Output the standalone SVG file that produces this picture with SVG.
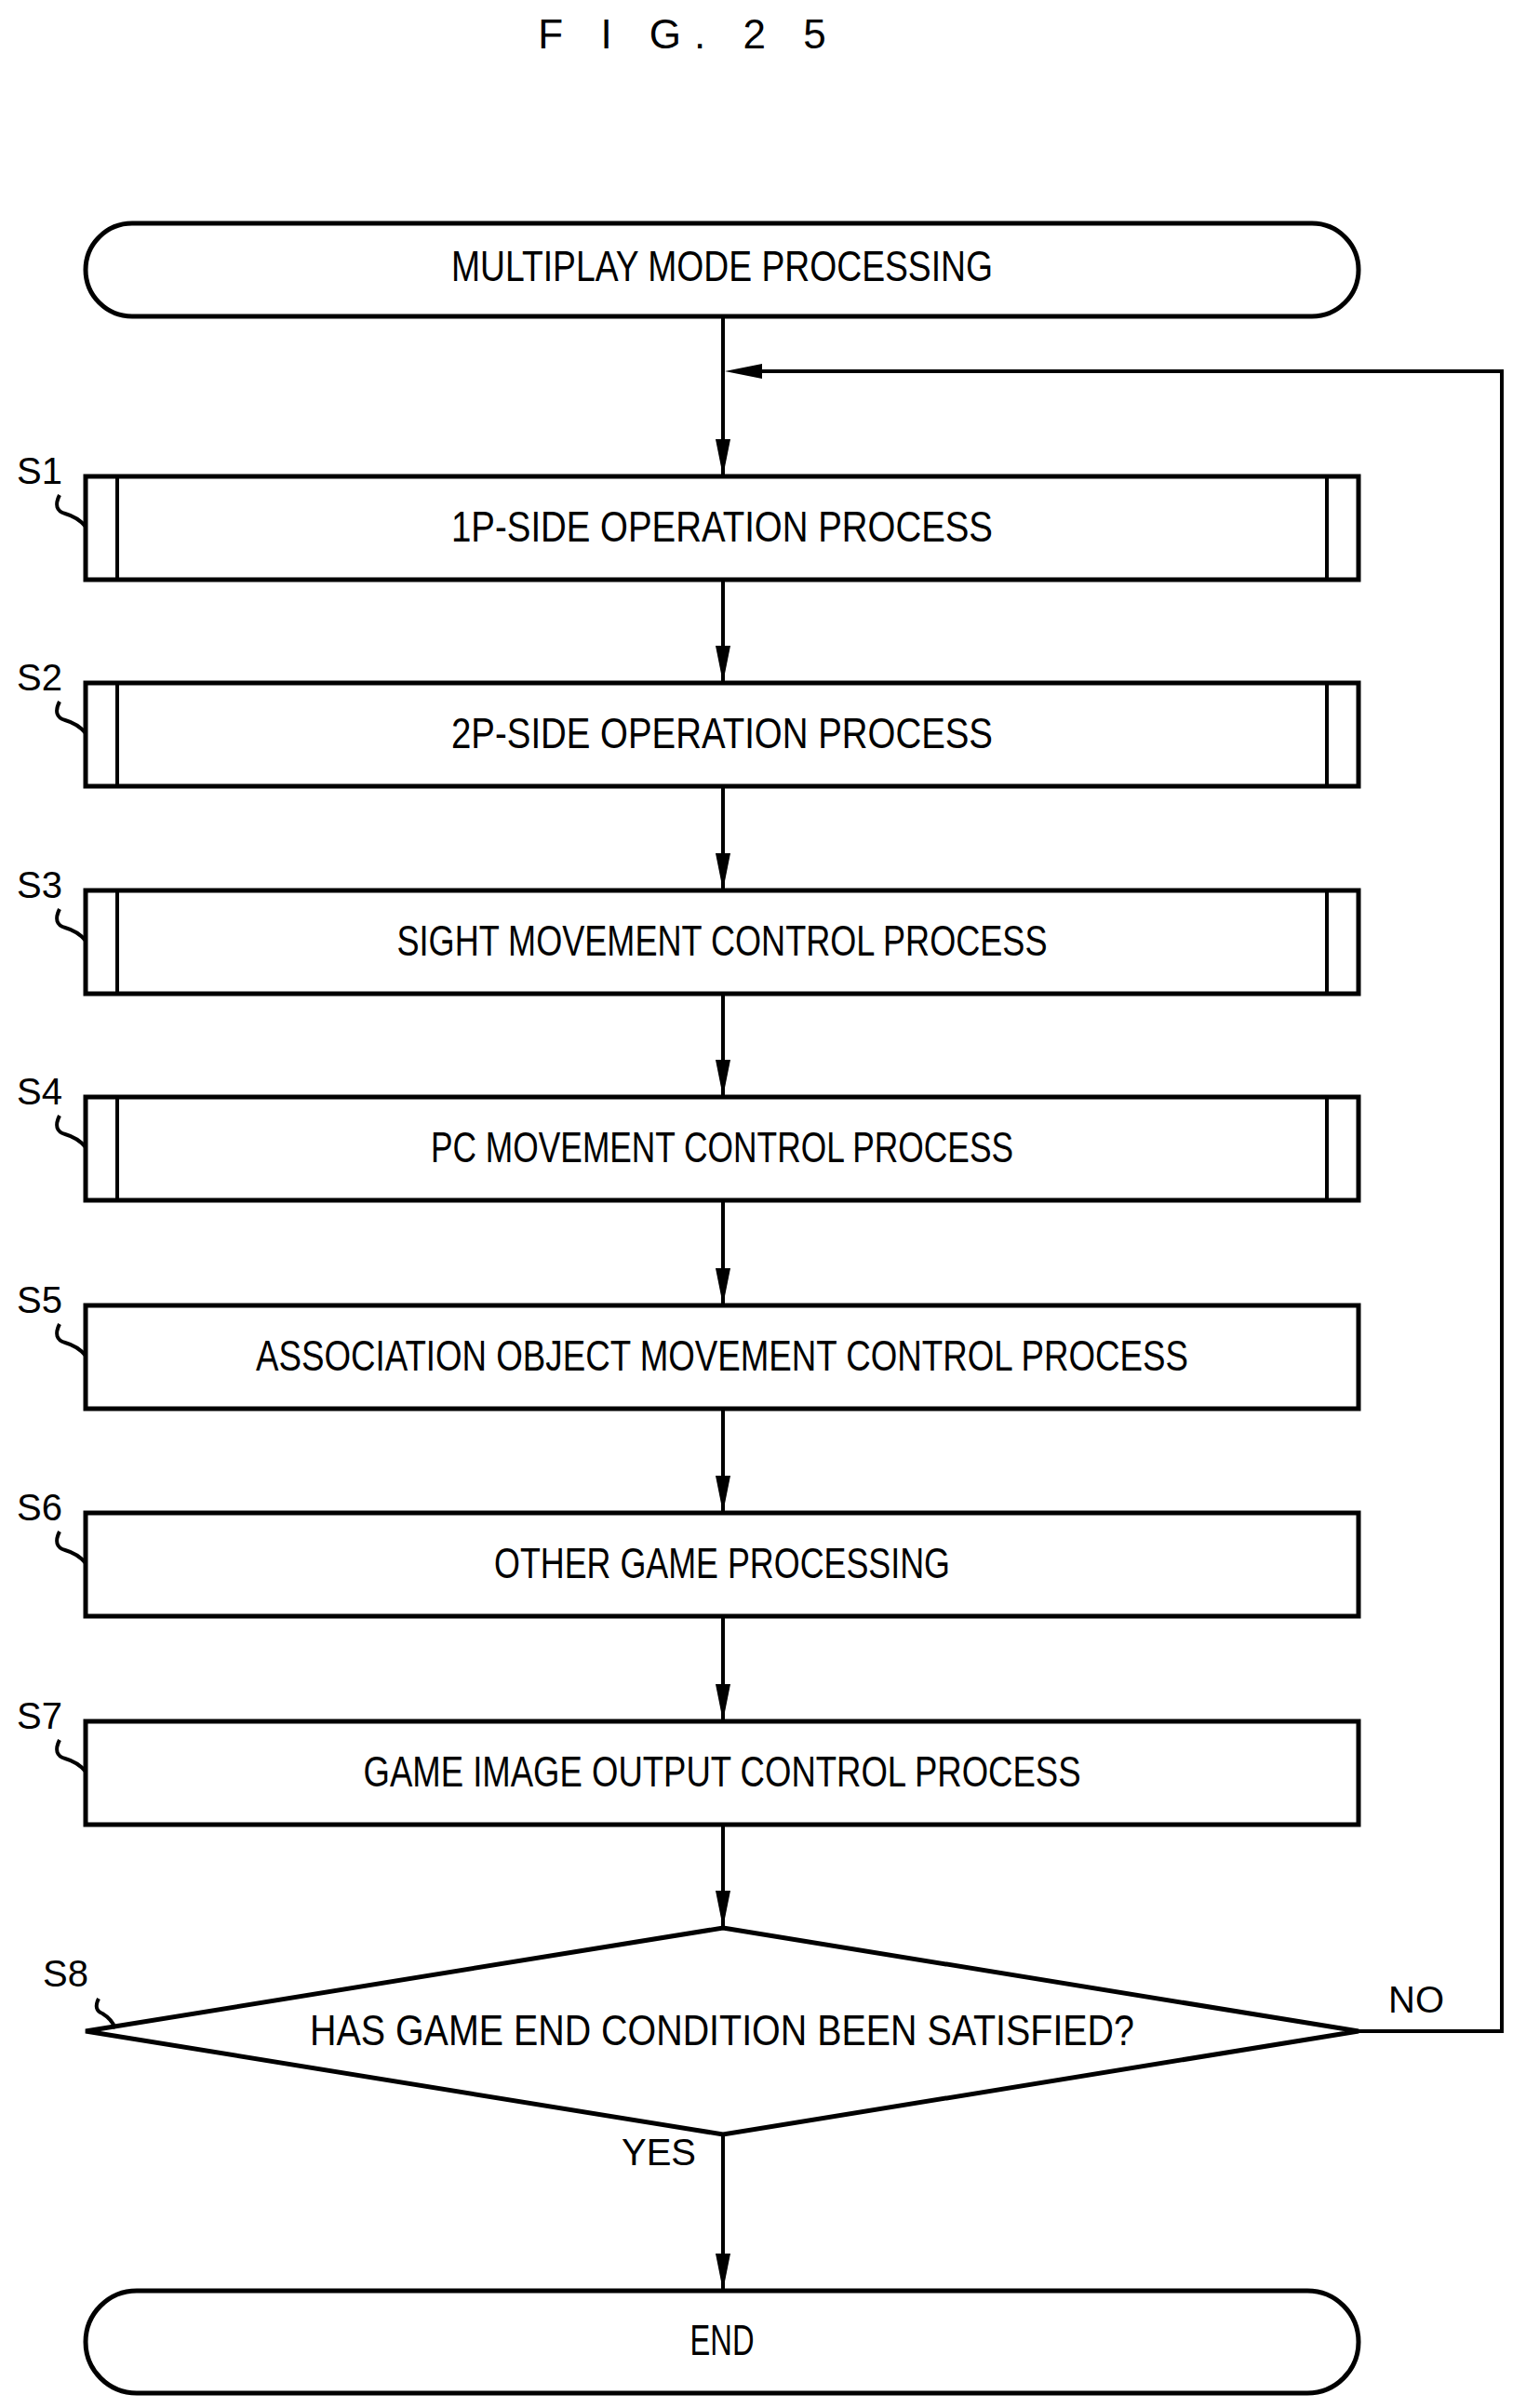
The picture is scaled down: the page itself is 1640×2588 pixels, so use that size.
<svg xmlns="http://www.w3.org/2000/svg" width="1640" height="2588" viewBox="0 0 1640 2588">
<style>
.b{fill:#fff;stroke:#000;stroke-width:5}
.l{fill:none;stroke:#000;stroke-width:4}
.t{font-family:"Liberation Sans",Arial,sans-serif;font-size:46px;fill:#000;text-anchor:middle}
.s{font-family:"Liberation Sans",Arial,sans-serif;font-size:40px;fill:#000}
</style>
<defs><marker id="a" markerWidth="40" markerHeight="16" refX="38" refY="8" orient="auto" markerUnits="userSpaceOnUse" viewBox="0 0 40 16"><path d="M0,0 L40,8 L0,16 Z"/></marker></defs>
<text x="740" y="52" font-family="Liberation Sans,sans-serif" font-size="44" text-anchor="middle" letter-spacing="14">F I G. 2 5</text>
<g id="connectors">
<line class="l" x1="777" y1="340" x2="777" y2="510" marker-end="url(#a)"/>
<line class="l" x1="777" y1="623" x2="777" y2="732" marker-end="url(#a)"/>
<line class="l" x1="777" y1="845" x2="777" y2="955" marker-end="url(#a)"/>
<line class="l" x1="777" y1="1068" x2="777" y2="1177" marker-end="url(#a)"/>
<line class="l" x1="777" y1="1290" x2="777" y2="1401" marker-end="url(#a)"/>
<line class="l" x1="777" y1="1514" x2="777" y2="1624" marker-end="url(#a)"/>
<line class="l" x1="777" y1="1737" x2="777" y2="1848" marker-end="url(#a)"/>
<line class="l" x1="777" y1="1961" x2="777" y2="2070" marker-end="url(#a)"/>
<line class="l" x1="777" y1="2294" x2="777" y2="2460" marker-end="url(#a)"/>
<polyline class="l" points="1460,2183 1614,2183 1614,399 790,399"/>
<path d="M779,399 L819,391 L819,407 Z"/>
<text class="s" x="1492" y="2163">NO</text>
<text class="s" x="668" y="2327">YES</text>
</g>
<g id="start"><rect class="b" x="92" y="240" width="1368" height="100" rx="50"/><text class="t" x="776" y="302" textLength="582" lengthAdjust="spacingAndGlyphs">MULTIPLAY MODE PROCESSING</text></g>
<g id="s1"><rect class="b" x="92" y="512" width="1368" height="111"/><line class="l" x1="126" y1="512" x2="126" y2="623"/><line class="l" x1="1426" y1="512" x2="1426" y2="623"/><text class="t" x="776" y="582" textLength="582" lengthAdjust="spacingAndGlyphs">1P-SIDE OPERATION PROCESS</text><text class="s" x="18" y="520">S1</text><path class="l" d="M64,532 Q56,548 70,552 Q84,556 92,566"/></g>
<g id="s2"><rect class="b" x="92" y="734" width="1368" height="111"/><line class="l" x1="126" y1="734" x2="126" y2="845"/><line class="l" x1="1426" y1="734" x2="1426" y2="845"/><text class="t" x="776" y="804" textLength="582" lengthAdjust="spacingAndGlyphs">2P-SIDE OPERATION PROCESS</text><text class="s" x="18" y="742">S2</text><path class="l" d="M64,754 Q56,770 70,774 Q84,778 92,788"/></g>
<g id="s3"><rect class="b" x="92" y="957" width="1368" height="111"/><line class="l" x1="126" y1="957" x2="126" y2="1068"/><line class="l" x1="1426" y1="957" x2="1426" y2="1068"/><text class="t" x="776" y="1027" textLength="699" lengthAdjust="spacingAndGlyphs">SIGHT MOVEMENT CONTROL PROCESS</text><text class="s" x="18" y="965">S3</text><path class="l" d="M64,977 Q56,993 70,997 Q84,1001 92,1011"/></g>
<g id="s4"><rect class="b" x="92" y="1179" width="1368" height="111"/><line class="l" x1="126" y1="1179" x2="126" y2="1290"/><line class="l" x1="1426" y1="1179" x2="1426" y2="1290"/><text class="t" x="776" y="1249" textLength="626" lengthAdjust="spacingAndGlyphs">PC MOVEMENT CONTROL PROCESS</text><text class="s" x="18" y="1187">S4</text><path class="l" d="M64,1199 Q56,1215 70,1219 Q84,1223 92,1233"/></g>
<g id="s5"><rect class="b" x="92" y="1403" width="1368" height="111"/><text class="t" x="776" y="1473" textLength="1002" lengthAdjust="spacingAndGlyphs">ASSOCIATION OBJECT MOVEMENT CONTROL PROCESS</text><text class="s" x="18" y="1411">S5</text><path class="l" d="M64,1423 Q56,1439 70,1443 Q84,1447 92,1457"/></g>
<g id="s6"><rect class="b" x="92" y="1626" width="1368" height="111"/><text class="t" x="776" y="1696" textLength="490" lengthAdjust="spacingAndGlyphs">OTHER GAME PROCESSING</text><text class="s" x="18" y="1634">S6</text><path class="l" d="M64,1646 Q56,1662 70,1666 Q84,1670 92,1680"/></g>
<g id="s7"><rect class="b" x="92" y="1850" width="1368" height="111"/><text class="t" x="776" y="1920" textLength="771" lengthAdjust="spacingAndGlyphs">GAME IMAGE OUTPUT CONTROL PROCESS</text><text class="s" x="18" y="1858">S7</text><path class="l" d="M64,1870 Q56,1886 70,1890 Q84,1894 92,1904"/></g>
<g id="s8"><polygon class="b" points="777,2072 1460,2183 777,2294 92,2183"/><text class="t" x="776" y="2198" textLength="886" lengthAdjust="spacingAndGlyphs">HAS GAME END CONDITION BEEN SATISFIED?</text><text class="s" x="46" y="2135">S8</text><path class="l" d="M106,2148 Q100,2160 110,2164 Q120,2170 124,2180"/></g>
<g id="end"><rect class="b" x="92" y="2462" width="1368" height="110" rx="55"/><text class="t" x="776" y="2531" textLength="69" lengthAdjust="spacingAndGlyphs">END</text></g>
</svg>
